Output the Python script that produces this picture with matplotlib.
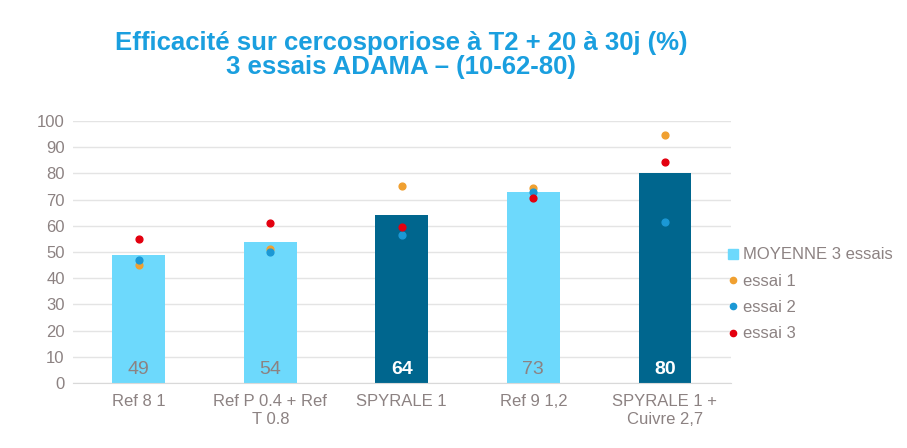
import matplotlib
matplotlib.use("Agg")
import matplotlib.pyplot as plt
from matplotlib.lines import Line2D
import numpy as np

plt.rcParams['font.family'] = ['Liberation Sans', 'DejaVu Sans']

categories = ["Ref 8 1", "Ref P 0.4 + Ref\nT 0.8", "SPYRALE 1", "Ref 9 1,2", "SPYRALE 1 +\nCuivre 2,7"]
moyenne = [49, 54, 64, 73, 80]
essai1 = [45, 51, 75, 74.5, 94.5]
essai2 = [47, 50, 56.5, 73, 61.5]
essai3 = [55, 61, 59.5, 70.5, 84.5]
highlight = [False, False, True, False, True]

light = "#6DD9FC"
dark = "#00668E"
c1 = "#F0A030"
c2 = "#1B98D5"
c3 = "#E3000F"
grey = "#8C8282"

fig = plt.figure(figsize=(9.07, 4.48), dpi=100)
ax = fig.add_axes([0.0805, 0.145, 0.725, 0.585])

x = np.arange(len(categories))
colors = [dark if h else light for h in highlight]
ax.bar(x, moyenne, width=0.4, color=colors, zorder=2)
ax.scatter(x, essai1, s=24, color=c1, zorder=3)
ax.scatter(x, essai2, s=24, color=c2, zorder=3)
ax.scatter(x, essai3, s=24, color=c3, zorder=3)

for xi, v, h in zip(x, moyenne, highlight):
    ax.text(xi, 5.3, f"{v}", ha="center", va="center", fontsize=14,
            color="white" if h else grey, fontweight="bold" if h else "normal", zorder=4)

ax.set_ylim(0, 100)
ax.set_xlim(-0.5, len(categories) - 0.5)
ax.set_yticks(range(0, 101, 10))
ax.yaxis.grid(True, color="#E4E4E4", linewidth=1)
ax.set_axisbelow(True)
for s in ["top", "right", "left"]:
    ax.spines[s].set_visible(False)
ax.spines["bottom"].set_color("#D9D9D9")
ax.tick_params(axis="both", length=0, colors=grey, labelsize=12)
ax.tick_params(axis="x", pad=8)
ax.tick_params(axis="y", pad=6)
ax.set_xticks(x)
ax.set_xticklabels(categories, linespacing=1.2)

handles = [
    Line2D([], [], marker="s", linestyle="none", color=light, markersize=7),
    Line2D([], [], marker="o", linestyle="none", color=c1, markersize=4.5),
    Line2D([], [], marker="o", linestyle="none", color=c2, markersize=4.5),
    Line2D([], [], marker="o", linestyle="none", color=c3, markersize=4.5),
]
labels = ["MOYENNE 3 essais", "essai 1", "essai 2", "essai 3"]
leg = fig.legend(handles, labels, loc="center left", bbox_to_anchor=(0.786, 0.343),
                 frameon=False, fontsize=12, handlelength=0.6, handletextpad=0.3,
                 labelspacing=0.68, labelcolor=grey)

fig.text(0.442, 0.905, "Efficacité sur cercosporiose à T2 + 20 à 30j (%)", ha="center", va="center",
         fontsize=18.5, fontweight="bold", color="#1A9FDF")
fig.text(0.442, 0.850, "3 essais ADAMA – (10-62-80)", ha="center", va="center",
         fontsize=18.5, fontweight="bold", color="#1A9FDF")

fig.savefig("out.png", dpi=100)
